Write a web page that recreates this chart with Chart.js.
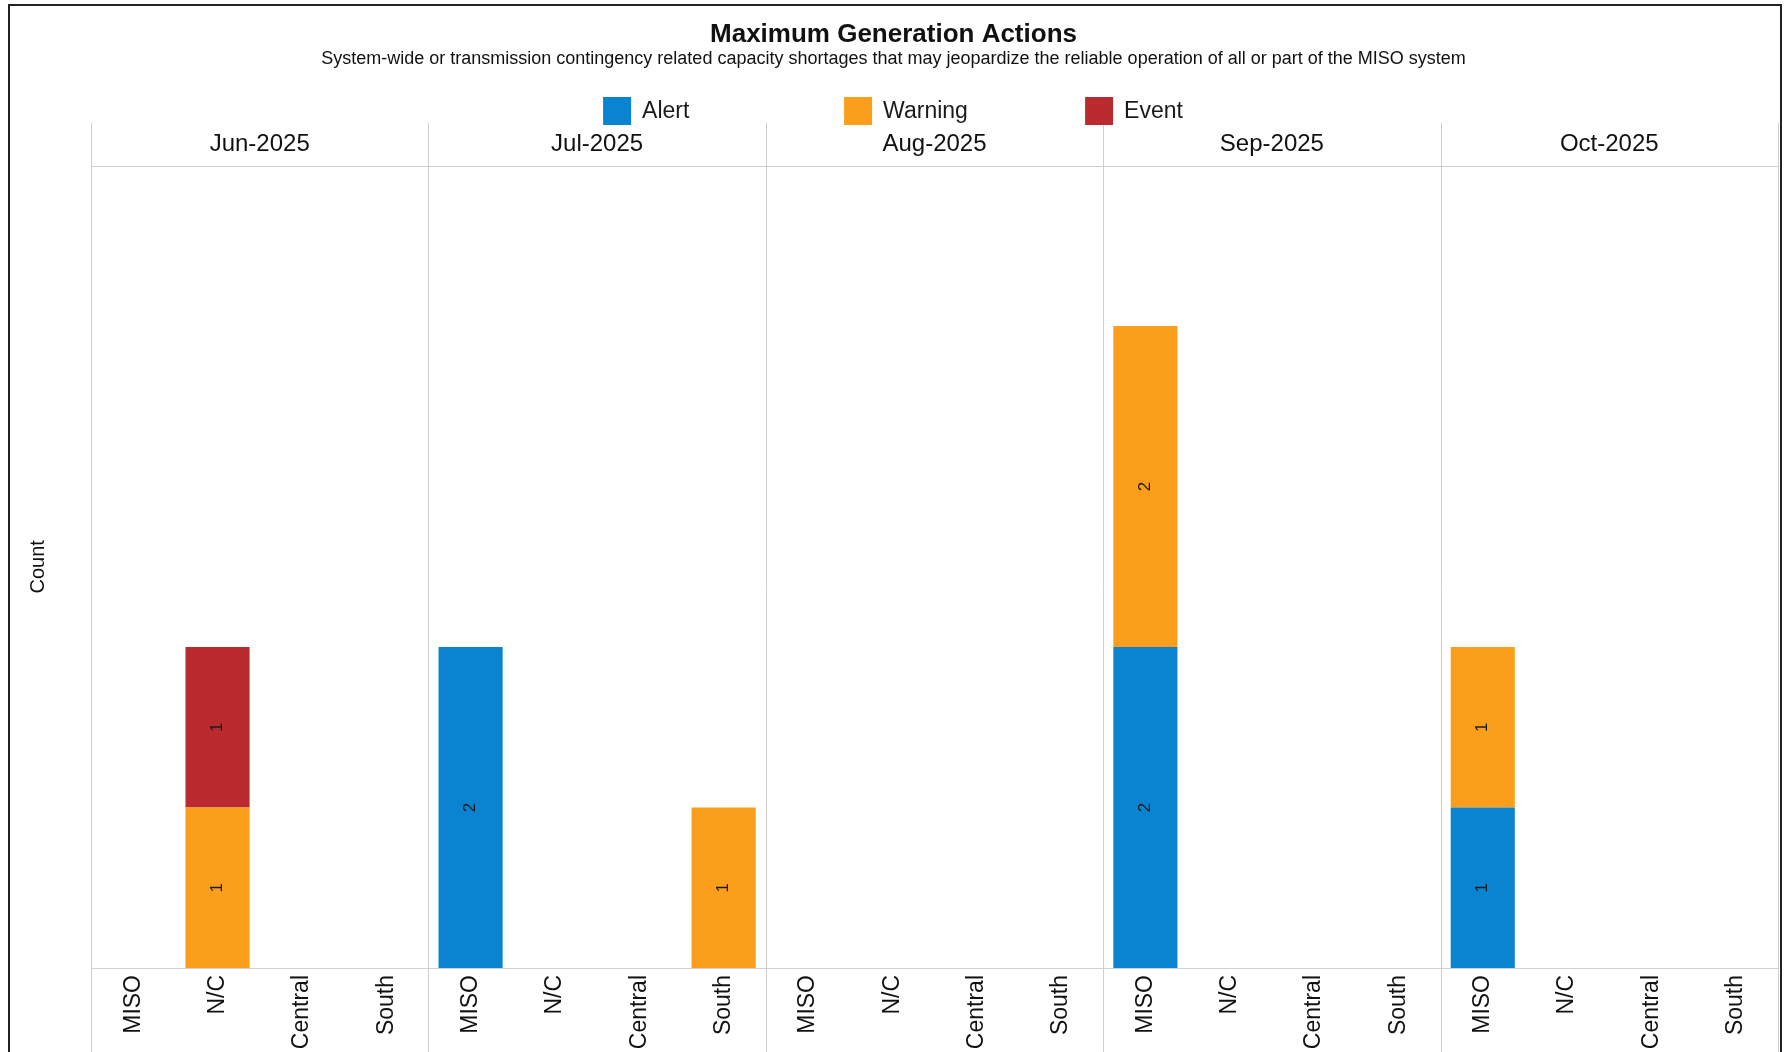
<!DOCTYPE html>
<html>
<head>
<meta charset="utf-8">
<script src="https://cdn.jsdelivr.net/npm/chart.js@4.4.1/dist/chart.umd.min.js"></script>
<style>
  html, body { margin: 0; padding: 0; background: #ffffff; }
  #wrap { width: 1786px; height: 1052px; position: relative; }
</style>
</head>
<body>
<div id="wrap"><canvas id="c" width="1786" height="1052"></canvas></div>
<script>
// ---- Data ----
const months = ['Jun-2025', 'Jul-2025', 'Aug-2025', 'Sep-2025', 'Oct-2025'];
const regions = ['MISO', 'N/C', 'Central', 'South'];
// values per month, per region (MISO, N/C, Central, South)
const alertValues = [
  [0, 0, 0, 0],   // Jun
  [2, 0, 0, 0],   // Jul
  [0, 0, 0, 0],   // Aug
  [2, 0, 0, 0],   // Sep
  [1, 0, 0, 0]    // Oct
];
const warningValues = [
  [0, 1, 0, 0],
  [0, 0, 0, 1],
  [0, 0, 0, 0],
  [2, 0, 0, 0],
  [1, 0, 0, 0]
];
const eventValues = [
  [0, 1, 0, 0],
  [0, 0, 0, 0],
  [0, 0, 0, 0],
  [0, 0, 0, 0],
  [0, 0, 0, 0]
];
const seriesNames = ['Alert', 'Warning', 'Event'];
const seriesColors = ['#0A83D0', '#FB9E1B', '#BA2B2F'];
const titleText = 'Maximum Generation Actions';
const subtitleText = 'System-wide or transmission contingency related capacity shortages that may jeopardize the reliable operation of all or part of the MISO system';
const yTitle = 'Count';
const yMax = 5;

// ---- Build category table ----
const catLabels = [];
months.forEach(() => regions.forEach(r => catLabels.push(r)));
const flat = arr => arr.reduce((a, b) => a.concat(b), []);
const seriesData = [flat(alertValues), flat(warningValues), flat(eventValues)];

const FONT = 'Arial, "Liberation Sans", sans-serif';
const GRID = '#cfcfcf';

// Panel dividers, header line, border
const framePlugin = {
  id: 'frame',
  beforeDatasetsDraw(chart) {
    const { ctx, chartArea: a, scales: { x } } = chart;
    ctx.save();
    ctx.strokeStyle = GRID;
    ctx.lineWidth = 1;
    const n = regions.length;
    const xs = [];
    for (let i = 0; i <= months.length; i++) {
      let px;
      if (i === 0) px = a.left;
      else if (i === months.length) px = a.right;
      else px = (x.getPixelForTick(i * n - 1) + x.getPixelForTick(i * n)) / 2;
      xs.push(Math.round(px) + 0.5);
    }
    ctx.beginPath();
    xs.forEach(px => { ctx.moveTo(px, a.top - 43); ctx.lineTo(px, chart.height); });
    ctx.moveTo(a.left, Math.round(a.top) + 0.5); ctx.lineTo(a.right, Math.round(a.top) + 0.5);
    ctx.moveTo(a.left, Math.round(a.bottom) + 0.5); ctx.lineTo(a.right, Math.round(a.bottom) + 0.5);
    ctx.stroke();
    ctx.restore();
  },
  afterDraw(chart) {
    const { ctx } = chart;
    ctx.save();
    ctx.strokeStyle = '#222';
    ctx.lineWidth = 2;
    ctx.strokeRect(9, 5, 1772, 1100);
    ctx.restore();
  }
};

// Legend with fixed item pitch
const legendPlugin = {
  id: 'fixedLegend',
  afterDraw(chart) {
    const { ctx } = chart;
    const box = 28, gap = 11, pitch = 241, cy = 111;
    ctx.save();
    ctx.font = '23px ' + FONT;
    ctx.textBaseline = 'middle';
    ctx.textAlign = 'left';
    const ds = chart.data.datasets;
    const lastW = box + gap + ctx.measureText(ds[ds.length - 1].label).width;
    const total = pitch * (ds.length - 1) + lastW;
    let x0 = chart.width / 2 - total / 2;
    ds.forEach((d, i) => {
      const x = x0 + i * pitch;
      ctx.fillStyle = d.backgroundColor;
      ctx.fillRect(x, cy - box / 2, box, box);
      ctx.fillStyle = '#1a1a1a';
      ctx.fillText(d.label, x + box + gap, cy + 1);
    });
    ctx.restore();
  }
};

// Segment value labels, rotated
const valueLabelPlugin = {
  id: 'valueLabels',
  afterDatasetsDraw(chart) {
    const { ctx } = chart;
    ctx.save();
    ctx.font = '17px ' + FONT;
    ctx.fillStyle = '#1a1a1a';
    ctx.textAlign = 'center';
    ctx.textBaseline = 'middle';
    chart.data.datasets.forEach((d, di) => {
      const meta = chart.getDatasetMeta(di);
      meta.data.forEach((bar, i) => {
        const v = d.data[i];
        if (!v) return;
        const cy = (bar.y + bar.base) / 2;
        ctx.save();
        ctx.translate(bar.x, cy);
        ctx.rotate(-Math.PI / 2);
        ctx.fillText(String(v), 0, 0);
        ctx.restore();
      });
    });
    ctx.restore();
  }
};

new Chart(document.getElementById('c'), {
  type: 'bar',
  data: {
    labels: catLabels,
    datasets: seriesNames.map((name, i) => ({
      label: name,
      data: seriesData[i],
      backgroundColor: seriesColors[i],
      borderWidth: 0,
      categoryPercentage: 1.0,
      barPercentage: 0.76,
      xAxisID: 'x',
      yAxisID: 'y'
    }))
  },
  options: {
    responsive: false,
    animation: false,
    devicePixelRatio: 1,
    layout: { padding: { top: 0, left: 9, right: 8, bottom: 0 } },
    plugins: {
      legend: { display: false },
      tooltip: { enabled: false },
      title: {
        display: true,
        text: titleText,
        color: '#111',
        font: { family: FONT, size: 26, weight: 'bold', lineHeight: 1.0 },
        padding: { top: 22, bottom: 0 }
      },
      subtitle: {
        display: true,
        text: subtitleText,
        color: '#111',
        font: { family: FONT, size: 18, lineHeight: 1.2 },
        padding: { top: 0, bottom: 53 }
      }
    },
    scales: {
      x: {
        type: 'category',
        position: 'bottom',
        stacked: true,
        grid: { display: false, drawTicks: false },
        border: { display: false },
        ticks: {
          autoSkip: false,
          maxRotation: 90,
          minRotation: 90,
          padding: 7,
          color: '#111',
          font: { family: FONT, size: 23 }
        },
        afterFit(scale) { scale.height = 84; }
      },
      months: {
        type: 'category',
        position: 'top',
        labels: months,
        offset: true,
        grid: { display: false, drawTicks: false },
        border: { display: false },
        ticks: {
          padding: 7,
          color: '#111',
          font: { family: FONT, size: 24 }
        },
        afterFit(scale) { scale.height = 43; }
      },
      y: {
        stacked: true,
        min: 0,
        max: yMax,
        grid: { display: false, drawTicks: false },
        border: { display: false },
        ticks: { display: false },
        title: {
          display: true,
          text: yTitle,
          color: '#111',
          font: { family: FONT, size: 20, lineHeight: 1.2 },
          padding: { top: 17, bottom: 0 }
        },
        afterFit(scale) { scale.width = 82; }
      }
    }
  },
  plugins: [framePlugin, legendPlugin, valueLabelPlugin]
});
</script>
</body>
</html>
